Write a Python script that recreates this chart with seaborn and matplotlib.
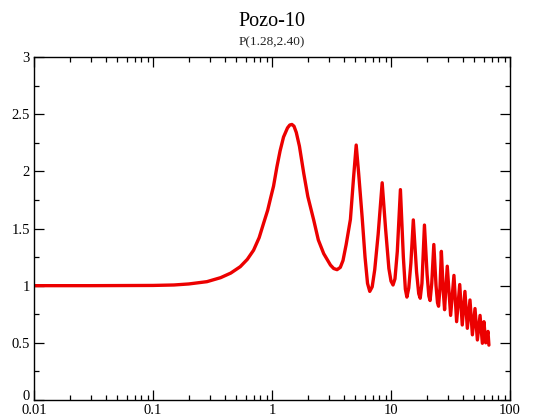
import matplotlib
matplotlib.use("Agg")
import matplotlib.pyplot as plt
import seaborn as sns
import pandas as pd
from matplotlib.ticker import FixedLocator, NullFormatter
from matplotlib.transforms import ScaledTranslation

# ---- data ----
title = "Pozo-10"
subtitle = "P(1.28,2.40)"

x_vals = [0.01, 0.03, 0.1, 0.15, 0.2, 0.284, 0.37, 0.45, 0.541, 0.62, 0.70,
          0.78, 0.85, 0.92, 0.97, 1.03, 1.10, 1.17, 1.25, 1.35, 1.41, 1.47,
          1.53, 1.60, 1.70, 1.85, 2.0, 2.24, 2.45, 2.72, 3.1, 3.3, 3.52, 3.75,
          3.95, 4.2, 4.56, 4.85, 5.1, 5.35, 5.72, 6.05, 6.35, 6.63, 6.95, 7.3,
          7.8, 8.43, 9.0, 9.6, 10.0, 10.4, 10.8, 11.3, 12.0, 12.7, 13.2, 13.6,
          14.1, 14.7, 15.4, 16.4, 17.1, 17.6, 18.2, 19.1, 20.1, 20.8, 21.3,
          22.0, 22.9, 23.9, 24.6, 25.1, 25.8, 26.5, 27.5, 28.2, 29.7, 31.7,
          33.8, 35.6, 37.8, 39.7, 41.8, 43.8, 46.1, 48.3, 50.8, 53.2, 56.0,
          58.6, 60.4, 62.5, 65.3, 66.5]
y_vals = [1.000, 1.000, 1.002, 1.006, 1.015, 1.035, 1.07, 1.11, 1.166, 1.23,
          1.31, 1.42, 1.546, 1.66, 1.76, 1.87, 2.04, 2.18, 2.30, 2.38, 2.405,
          2.41, 2.395, 2.34, 2.22, 1.98, 1.78, 1.575, 1.40, 1.28, 1.18, 1.15,
          1.14, 1.16, 1.22, 1.36, 1.58, 1.95, 2.23, 1.98, 1.60, 1.25, 1.02,
          0.95, 0.99, 1.14, 1.45, 1.90, 1.50, 1.15, 1.04, 1.006, 1.06, 1.30,
          1.84, 1.25, 0.97, 0.90, 0.98, 1.20, 1.575, 1.12, 0.93, 0.89, 1.02,
          1.53, 1.10, 0.91, 0.87, 1.02, 1.36, 1.00, 0.85, 0.82, 0.98, 1.30,
          0.95, 0.79, 1.17, 0.74, 1.09, 0.685, 1.01, 0.656, 0.95, 0.627, 0.875,
          0.57, 0.80, 0.525, 0.74, 0.496, 0.685, 0.50, 0.60, 0.48]

x_ticks = [0.01, 0.1, 1, 10, 100]
x_tick_labels = ["0.01", "0.1", "1", "10", "100"]
y_ticks = [0, 0.5, 1, 1.5, 2, 2.5, 3]
y_tick_labels = ["0", "0.5", "1", "1.5", "2", "2.5", "3"]

df = pd.DataFrame({"x": x_vals, "y": y_vals})

sns.set_theme(style="ticks")
plt.rcParams["font.family"] = ["Liberation Serif", "DejaVu Serif"]

fig = plt.figure(figsize=(5.39, 4.19), dpi=100)
ax = fig.add_axes([34 / 539, 1 - 400 / 419, (510 - 34) / 539, (400 - 57) / 419])

sns.lineplot(data=df, x="x", y="y", ax=ax, color="#ec0000", linewidth=2.4,
             sort=False, estimator=None)

ax.set_xscale("log")
ax.set_xlim(0.01, 100)
ax.set_ylim(0, 3)
ax.set_xlabel("")
ax.set_ylabel("")

ax.set_xticks(x_ticks)
ax.set_xticklabels(x_tick_labels)
ax.xaxis.set_minor_locator(FixedLocator(
    [m * d for d in (0.01, 0.1, 1, 10) for m in range(2, 10)]))
ax.xaxis.set_minor_formatter(NullFormatter())
ax.set_yticks(y_ticks)
ax.set_yticklabels(y_tick_labels)
ax.yaxis.set_minor_locator(FixedLocator([0.25, 0.75, 1.25, 1.75, 2.25, 2.75]))

ax.tick_params(which="both", direction="in", top=True, right=True,
               colors="black", labelsize=10.5, width=0.9)
ax.tick_params(which="major", length=7)
ax.tick_params(which="minor", length=3.5)
ax.tick_params(axis="x", pad=3)
ax.tick_params(axis="y", pad=3)

# nudge the "0" y label up slightly so it does not collide with "0.01"
lbl0 = ax.get_yticklabels()[0]
lbl0.set_transform(lbl0.get_transform() + ScaledTranslation(0, 5 / 100, fig.dpi_scale_trans))

for s in ax.spines.values():
    s.set_visible(True)
    s.set_color("black")
    s.set_linewidth(1.0)

fig.text(272 / 539, 1 - 21 / 419, title, ha="center", va="center",
         fontsize=14.5, color="black")
fig.text(272 / 539, 1 - 42 / 419, subtitle, ha="center", va="center",
         fontsize=9.5, color="#222222")

fig.savefig("out.png", dpi=100)
